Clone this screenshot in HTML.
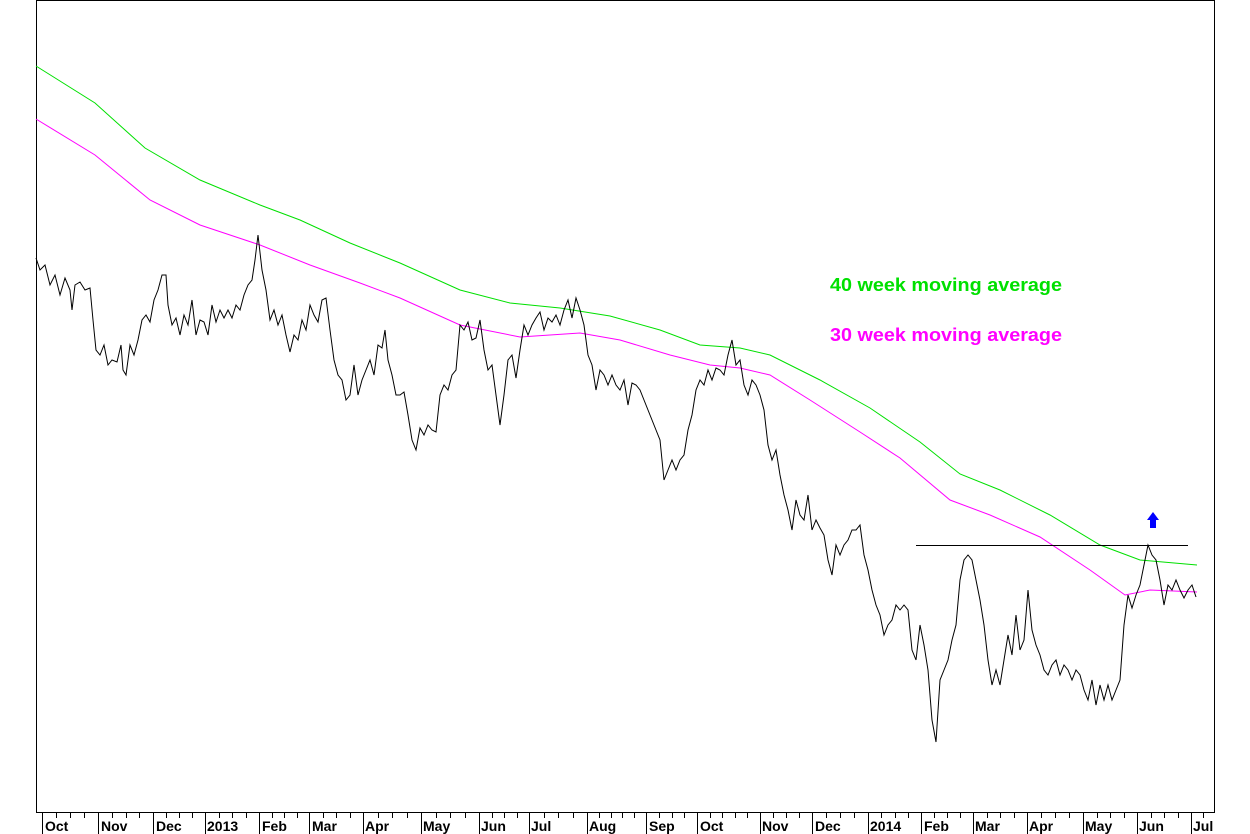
<!DOCTYPE html>
<html><head><style>
body{margin:0;background:#fff;}
svg{display:block;font-family:"Liberation Sans",Arial,sans-serif;}
</style></head><body>
<svg width="1250" height="834" viewBox="0 0 1250 834">
<rect x="36.5" y="0.5" width="1178" height="812" fill="none" stroke="#000" stroke-width="1"/>
<g stroke="#000" stroke-width="1">
<line x1="42.5" y1="812" x2="42.5" y2="834"/><line x1="98.5" y1="812" x2="98.5" y2="834"/><line x1="153.5" y1="812" x2="153.5" y2="834"/><line x1="205.5" y1="812" x2="205.5" y2="834"/><line x1="259.5" y1="812" x2="259.5" y2="834"/><line x1="309.5" y1="812" x2="309.5" y2="834"/><line x1="363.5" y1="812" x2="363.5" y2="834"/><line x1="421.5" y1="812" x2="421.5" y2="834"/><line x1="479.5" y1="812" x2="479.5" y2="834"/><line x1="529.5" y1="812" x2="529.5" y2="834"/><line x1="587.5" y1="812" x2="587.5" y2="834"/><line x1="646.5" y1="812" x2="646.5" y2="834"/><line x1="697.5" y1="812" x2="697.5" y2="834"/><line x1="760.5" y1="812" x2="760.5" y2="834"/><line x1="812.5" y1="812" x2="812.5" y2="834"/><line x1="868.5" y1="812" x2="868.5" y2="834"/><line x1="921.5" y1="812" x2="921.5" y2="834"/><line x1="973.5" y1="812" x2="973.5" y2="834"/><line x1="1027.5" y1="812" x2="1027.5" y2="834"/><line x1="1083.5" y1="812" x2="1083.5" y2="834"/><line x1="1137.5" y1="812" x2="1137.5" y2="834"/><line x1="1191.5" y1="812" x2="1191.5" y2="834"/>
</g>
<g id="ticks" stroke="#000"></g>
<g font-size="14" font-weight="bold" fill="#000">
<text x="45" y="831">Oct</text><text x="101" y="831">Nov</text><text x="156" y="831">Dec</text><text x="207" y="831">2013</text><text x="262" y="831">Feb</text><text x="312" y="831">Mar</text><text x="365" y="831">Apr</text><text x="423" y="831">May</text><text x="481" y="831">Jun</text><text x="531" y="831">Jul</text><text x="589" y="831">Aug</text><text x="649" y="831">Sep</text><text x="700" y="831">Oct</text><text x="762" y="831">Nov</text><text x="815" y="831">Dec</text><text x="870" y="831">2014</text><text x="924" y="831">Feb</text><text x="975" y="831">Mar</text><text x="1029" y="831">Apr</text><text x="1085" y="831">May</text><text x="1139" y="831">Jun</text><text x="1193" y="831">Jul</text>
</g>
<polyline fill="none" stroke="#00e000" stroke-width="1" points="36,66 95,103 145,148 200,180 260,205 300,220 350,243 400,263 460,290 510,303 560,308 610,316 660,330 700,345 740,348 770,355 820,380 870,408 920,442 960,474 1000,490 1050,515 1100,545 1140,560 1197,565"/>
<polyline fill="none" stroke="#ff00ff" stroke-width="1" points="36,119 95,155 150,200 200,225 260,245 310,265 360,283 400,298 460,325 520,337 580,333 620,340 670,355 710,365 740,368 770,375 810,400 860,432 900,458 950,500 990,515 1040,537 1090,570 1125,595 1150,590 1197,592"/>
<line x1="916" y1="545.5" x2="1188" y2="545.5" stroke="#000"/>
<polyline fill="none" stroke="#000" stroke-width="1" points="36,258 40,270 45,265 50,285 55,275 60,295 65,278 70,290 72,310 75,285 80,282 85,290 90,288 93,320 96,350 100,355 104,345 108,365 112,360 117,362 121,345 123,370 126,375 130,345 134,355 138,340 142,320 146,315 150,322 154,300 158,290 162,275 166,275 168,305 172,325 176,318 180,335 184,315 188,325 192,300 196,335 200,320 204,322 208,335 212,305 216,322 220,310 224,318 228,310 232,318 236,305 240,310 244,295 248,285 252,280 255,260 258,235 262,270 266,290 270,320 274,310 278,325 282,315 286,335 290,352 294,335 298,340 302,320 306,330 310,305 314,315 318,322 322,300 326,298 330,330 334,360 338,375 342,380 346,400 350,395 354,365 358,395 362,380 366,370 370,360 374,375 378,345 382,348 385,330 388,360 392,375 396,395 400,395 404,392 408,415 412,440 416,450 420,428 424,435 428,425 432,430 436,432 440,395 444,385 448,390 452,375 456,370 460,325 464,330 468,322 472,340 476,338 480,320 484,350 488,370 492,365 496,395 500,425 504,395 508,360 512,355 516,378 520,350 524,325 528,335 532,325 536,318 540,312 544,330 548,318 552,322 556,315 560,325 564,310 568,300 572,318 576,298 580,310 584,325 588,355 592,365 596,390 600,370 604,375 608,385 612,375 616,385 620,390 624,380 628,405 632,383 636,385 640,390 644,400 648,410 652,420 656,430 660,440 664,480 668,470 672,460 676,470 680,460 684,455 688,430 692,415 696,390 700,380 704,385 708,370 712,380 716,368 720,370 724,375 728,355 732,340 736,365 740,360 744,385 748,395 752,380 756,385 760,395 764,410 768,445 772,460 776,450 780,475 784,495 788,510 792,530 796,500 800,515 804,520 808,495 812,530 816,520 820,528 824,535 828,560 832,575 836,545 840,555 844,545 848,540 852,530 856,530 860,525 864,555 868,570 872,590 876,605 880,615 884,635 888,625 892,620 896,605 900,610 904,605 908,610 912,650 916,660 920,625 924,645 928,670 932,720 936,742 940,680 944,670 948,660 952,640 956,625 960,580 964,560 968,555 972,560 976,580 980,600 984,625 988,660 992,685 996,670 1000,685 1004,660 1008,635 1012,655 1016,615 1020,650 1024,640 1028,590 1032,630 1036,645 1040,655 1044,670 1048,675 1052,665 1056,660 1060,675 1064,665 1068,670 1072,680 1076,670 1080,675 1084,690 1088,700 1092,680 1096,705 1100,685 1104,700 1108,685 1112,700 1116,690 1120,680 1124,625 1128,595 1132,608 1136,595 1140,585 1144,565 1148,545 1152,555 1156,560 1160,580 1164,605 1168,585 1172,590 1176,580 1180,590 1184,598 1188,590 1192,585 1196,597"/>
<polygon points="1153,512 1159,520 1156,520 1156,528 1150,528 1150,520 1147,520" fill="#0000ff"/>
<text x="830" y="291" font-size="18" font-weight="bold" fill="#00e000" textLength="232" lengthAdjust="spacingAndGlyphs">40 week moving average</text>
<text x="830" y="341" font-size="18" font-weight="bold" fill="#ff00ff" textLength="232" lengthAdjust="spacingAndGlyphs">30 week moving average</text>
</svg>
<script>
var b=[42,98,153,205,259,309,363,421,479,529,587,646,697,760,812,868,921,973,1027,1083,1137,1191,1214];
var g=document.getElementById('ticks'),s='';
for(var i=0;i<b.length-1;i++){var w=(b[i+1]-b[i]);var n=Math.round(w/13);for(var k=1;k<n;k++){var x=Math.round(b[i]+k*w/n)+0.5;s+='<line x1="'+x+'" y1="812" x2="'+x+'" y2="818"/>';}}
g.innerHTML=s;
</script>
</body></html>
